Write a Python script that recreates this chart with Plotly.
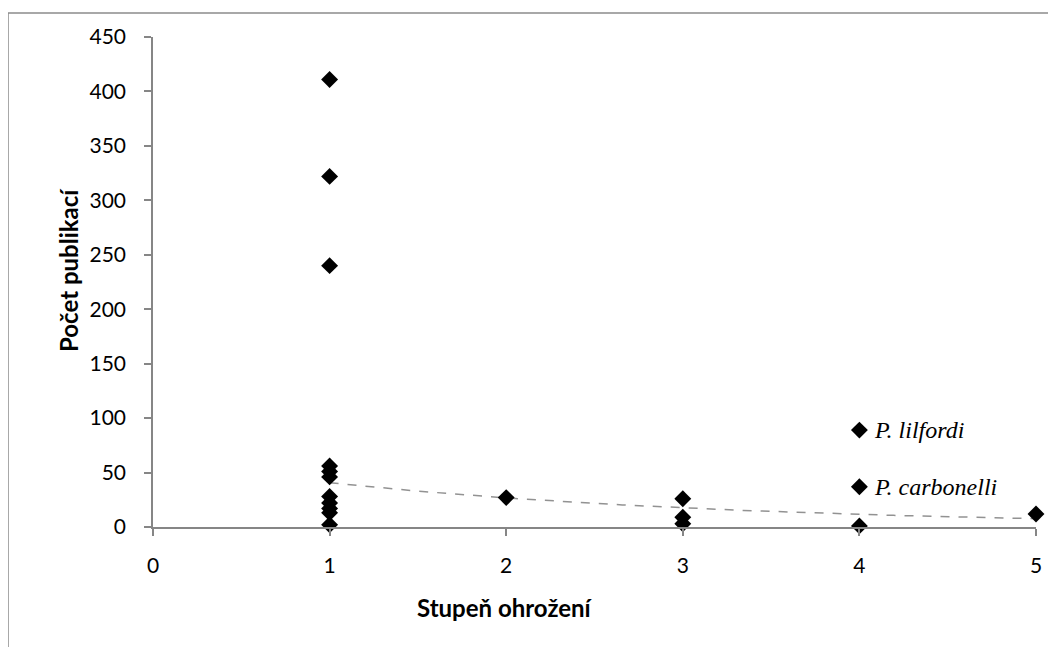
import numpy as np
import plotly.graph_objects as go

# Data
stupen = [1, 1, 1, 1, 1, 1, 1, 1, 1, 1, 1, 2, 3, 3, 3, 4, 5]
publikace = [411, 322, 240, 56, 51, 46, 28, 22, 17, 13, 2, 27, 26, 9, 3, 1, 12]
label_x = [4, 4]
label_y = [89, 37]
label_text = ["P. lilfordi", "P. carbonelli"]

x_ticks = [0, 1, 2, 3, 4, 5]
y_ticks = [0, 50, 100, 150, 200, 250, 300, 350, 400, 450]

# Exponential trendline (least squares on ln y), as in the spreadsheet chart
all_x = np.array(stupen + label_x, dtype=float)
all_y = np.array(publikace + label_y, dtype=float)
b, ln_a = np.polyfit(all_x, np.log(all_y), 1)
trend_x = np.linspace(all_x.min(), all_x.max(), 100)
trend_y = np.exp(ln_a) * np.exp(b * trend_x)

# page has an 8px body margin
OFF = 8
W, H = 1048, 639
# target page positions: x=0 at 153, x=5 at 1036, y=450 at 37, y=0 at 527
ML = 153 - OFF
MR = W - (1036 - OFF)
MT = 37 - OFF
MB = H - (527 - OFF)
PW, PH = W - ML - MR, H - MT - MB

def px_x(p):
    return (p - OFF - ML) / PW

def px_y(p):
    return (H - MB - (p - OFF)) / PH

fig = go.Figure()
fig.add_trace(go.Scatter(
    x=trend_x, y=trend_y, mode="lines",
    line=dict(color="#929292", width=1.5, dash="dash"),
    hoverinfo="skip", showlegend=False,
))
fig.add_trace(go.Scatter(
    x=stupen + label_x, y=publikace + label_y, mode="markers",
    marker=dict(symbol="diamond", size=13, color="black"),
    cliponaxis=False, showlegend=False,
))

annotations = [
    dict(text=t, x=lx, y=ly, xref="x", yref="y", showarrow=False,
         xanchor="left", yanchor="middle", xshift=13,
         font=dict(family="Liberation Serif", size=24, color="black",
                   style="italic"))
    for lx, ly, t in zip(label_x, label_y, label_text)
]
annotations += [
    dict(text="<b>Stupeň ohrožení</b>", xref="paper", yref="paper",
         x=px_x(505), y=px_y(607), showarrow=False,
         font=dict(family="Lato", size=24, color="black"),
         xanchor="center", yanchor="middle"),
    dict(text="<b>Počet publikací</b>", xref="paper", yref="paper",
         x=px_x(68), y=px_y(270), showarrow=False, textangle=-90,
         font=dict(family="Lato", size=24, color="black"),
         xanchor="center", yanchor="middle"),
]

axis_common = dict(
    showgrid=False, zeroline=False, showline=True,
    linecolor="#868686", linewidth=1.5,
    ticks="outside", ticklen=7, tickcolor="#868686", tickwidth=1.5,
    tickfont=dict(family="Lato", size=21, color="black"),
)
fig.update_xaxes(range=[0, 5], tickvals=x_ticks, ticklabelstandoff=12,
                 **axis_common)
fig.update_yaxes(range=[0, 450], tickvals=y_ticks, ticklabelstandoff=14,
                 **axis_common)

fig.update_layout(
    width=W, height=H,
    margin=dict(l=ML, r=MR, t=MT, b=MB, pad=0),
    paper_bgcolor="white", plot_bgcolor="white",
    font=dict(family="Lato", color="black"),
    shapes=[dict(
        type="rect", xref="paper", yref="paper",
        x0=px_x(8), x1=px_x(1080), y0=px_y(680), y1=px_y(13),
        line=dict(color="#8c8c8c", width=1.5), fillcolor="rgba(0,0,0,0)",
    )],
    annotations=annotations,
)

fig.write_html("out.html")
